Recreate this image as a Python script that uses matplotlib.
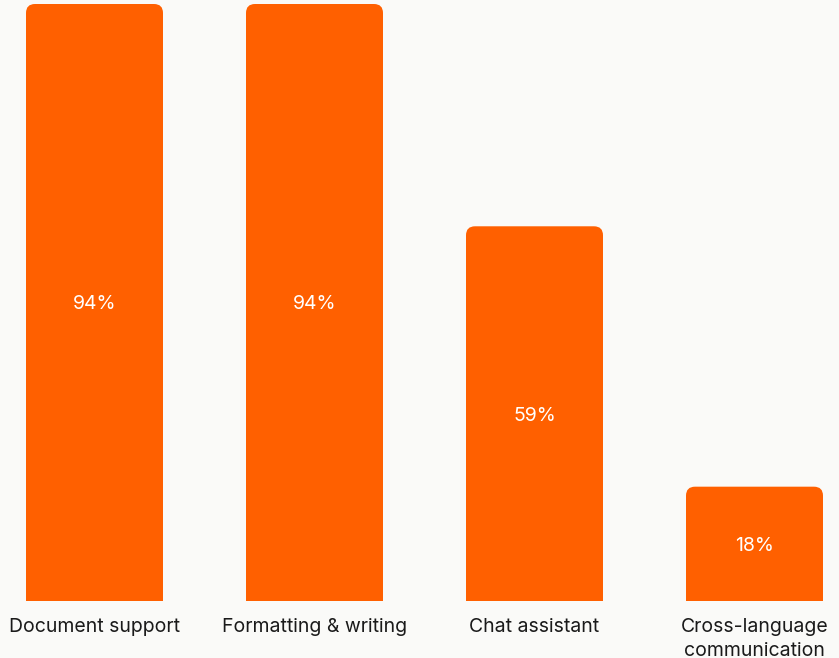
import matplotlib.pyplot as plt
from matplotlib.patches import FancyBboxPatch

categories = ["Document support", "Formatting & writing", "Chat assistant", "Cross-language\ncommunication"]
values = [94, 94, 59, 18]
value_labels = ["94%", "94%", "59%", "18%"]

bg = "#fafaf8"
orange = "#ff6000"

plt.rcParams['font.family'] = ['Inter', 'DejaVu Sans']

fig = plt.figure(figsize=(8.39, 6.58), dpi=100, facecolor=bg)
ax = fig.add_axes([0, 57 / 658, 1, 601 / 658])
ax.set_facecolor(bg)

px_x = 220.0          # pixels per x unit
px_y = 597.0 / 94     # pixels per percent
ax.set_xlim(-94.5 / px_x, (839 - 94.5) / px_x)
ax.set_ylim(0, 601 / px_y)

width = 137 / px_x
rx = 9 / px_x
for i, v in enumerate(values):
    box = FancyBboxPatch((i - width / 2, -5), width, v + 5,
                         boxstyle="round,pad=0,rounding_size=%f" % rx,
                         mutation_aspect=px_x / px_y,
                         facecolor=orange, edgecolor="none")
    ax.add_patch(box)
    ax.text(i, v / 2 - 2 / px_y, value_labels[i], ha="center", va="center",
            color="white", fontsize=14)
    ax.text(i, -17 / px_y, categories[i], ha="center", va="top",
            color="#1a1a1a", fontsize=14, linespacing=1.4, clip_on=False)

ax.set_axis_off()
fig.savefig("out.png", dpi=100, facecolor=bg)
